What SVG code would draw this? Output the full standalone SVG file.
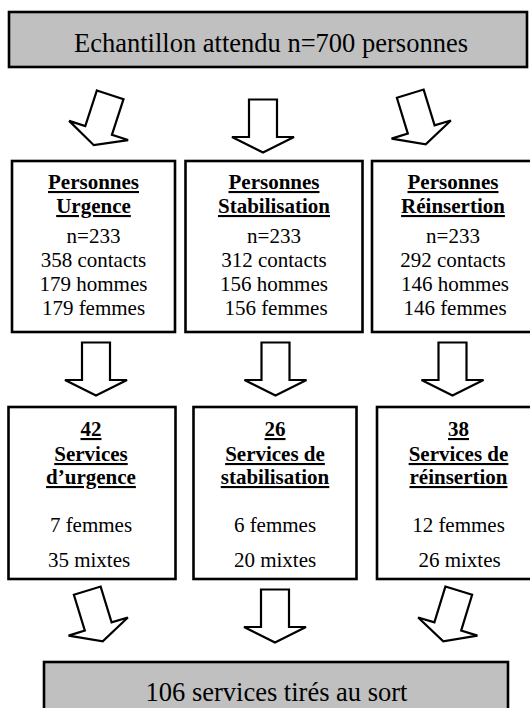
<svg xmlns="http://www.w3.org/2000/svg" width="530" height="708" viewBox="0 0 530 708">
<style>
text{font-family:"Liberation Serif","Times New Roman",serif;fill:#000;text-anchor:middle}
.big{font-size:26.5px}
.t{font-size:21px}
.b{font-size:21px;font-weight:bold;text-decoration:underline}
.box{fill:#fff;stroke:#000;stroke-width:2.6}
.gbox{fill:#c0c0c0;stroke:#000;stroke-width:2.6}
.arrow{fill:#fff;stroke:#000;stroke-width:2.2;stroke-linejoin:miter}
</style>
<defs>
<path id="arr" d="M-14,-26.5 H14 V11 H31 L0,26.5 L-31,11 H-14 Z"/>
</defs>
<rect width="530" height="708" fill="#fff"/>
<g id="top">
<rect class="gbox" x="9" y="12" width="518" height="55"/>
<text class="big" x="271" y="52">Echantillon attendu n=700 personnes</text>
</g>
<g id="p-urgence">
<rect class="box" x="12" y="161" width="163" height="171"/>
<text class="b" x="93.5" y="189">Personnes</text>
<text class="b" x="93.5" y="213">Urgence</text>
<text class="t" x="93.5" y="243">n=233</text>
<text class="t" x="93.5" y="267">358 contacts</text>
<text class="t" x="93.5" y="291">179 hommes</text>
<text class="t" x="93.5" y="315">179 femmes</text>
</g>
<g id="p-stabilisation">
<rect class="box" x="185.5" y="161" width="177" height="171"/>
<text class="b" x="274" y="189">Personnes</text>
<text class="b" x="274" y="213">Stabilisation</text>
<text class="t" x="274" y="243">n=233</text>
<text class="t" x="274" y="267">312 contacts</text>
<text class="t" x="274" y="291">156 hommes</text>
<text class="t" x="276" y="315">156 femmes</text>
</g>
<g id="p-reinsertion">
<rect class="box" x="372" y="161" width="162" height="171"/>
<text class="b" x="453" y="189">Personnes</text>
<text class="b" x="453" y="213">Réinsertion</text>
<text class="t" x="453" y="243">n=233</text>
<text class="t" x="453" y="267">292 contacts</text>
<text class="t" x="455" y="291">146 hommes</text>
<text class="t" x="455" y="315">146 femmes</text>
</g>
<g id="s-urgence">
<rect class="box" x="8.5" y="407" width="167" height="172"/>
<text class="b" x="91" y="436">42</text>
<text class="b" x="91" y="461">Services</text>
<text class="b" x="91" y="484">d’urgence</text>
<text class="t" x="91" y="532">7 femmes</text>
<text class="t" x="89" y="567">35 mixtes</text>
</g>
<g id="s-stabilisation">
<rect class="box" x="193.5" y="407" width="163" height="172"/>
<text class="b" x="275" y="436">26</text>
<text class="b" x="275" y="461">Services de</text>
<text class="b" x="275" y="484">stabilisation</text>
<text class="t" x="275" y="532">6 femmes</text>
<text class="t" x="275" y="567">20 mixtes</text>
</g>
<g id="s-reinsertion">
<rect class="box" x="377" y="407" width="163" height="172"/>
<text class="b" x="458.5" y="436">38</text>
<text class="b" x="458.5" y="461">Services de</text>
<text class="b" x="458.5" y="484">réinsertion</text>
<text class="t" x="458.5" y="532">12 femmes</text>
<text class="t" x="459.5" y="567">26 mixtes</text>
</g>
<g id="bottom">
<rect class="gbox" x="44" y="662" width="464" height="60"/>
<text class="big" x="276.5" y="701">106 services tirés au sort</text>
</g>
<g id="connectors">
<use href="#arr" class="arrow" transform="translate(102,120) rotate(18)"/>
<use href="#arr" class="arrow" transform="translate(263,126)"/>
<use href="#arr" class="arrow" transform="translate(418,119) rotate(-17)"/>
<use href="#arr" class="arrow" transform="translate(96,369)"/>
<use href="#arr" class="arrow" transform="translate(275.5,369)"/>
<use href="#arr" class="arrow" transform="translate(452.5,369)"/>
<use href="#arr" class="arrow" transform="translate(95,616) rotate(-17)"/>
<use href="#arr" class="arrow" transform="translate(275,616)"/>
<use href="#arr" class="arrow" transform="translate(451,616) rotate(17)"/>
</g>
</svg>
